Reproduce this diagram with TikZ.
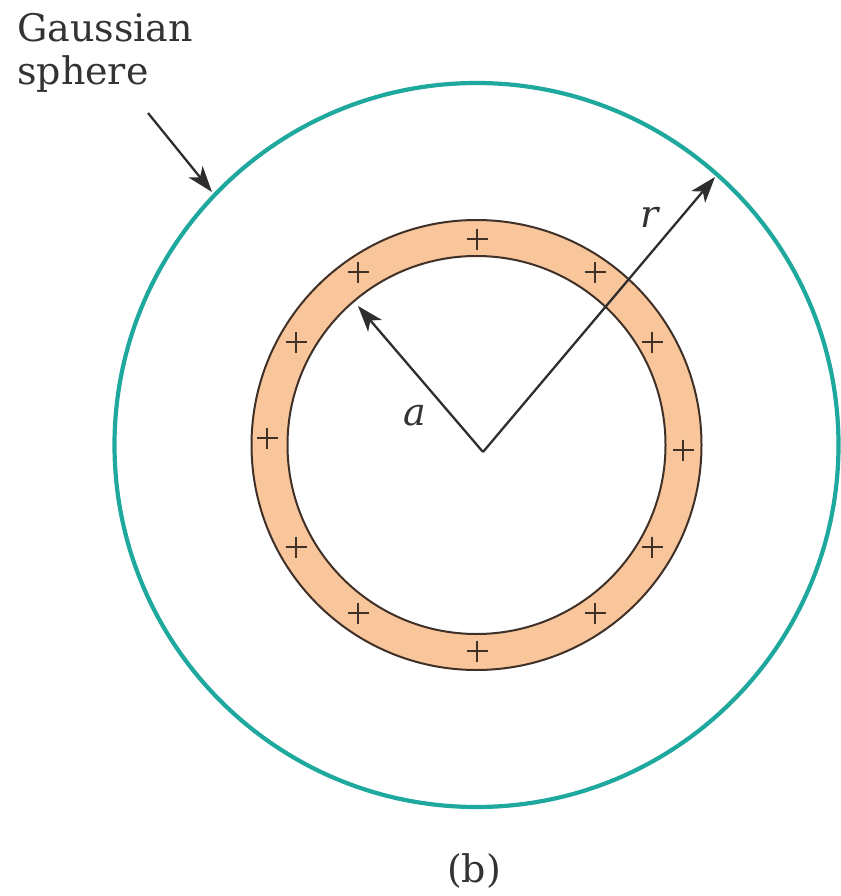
\documentclass[tikz,border=0pt]{standalone}
\usepackage{fontspec}
\setmainfont{DejaVu Serif}
\usetikzlibrary{arrows.meta}
\definecolor{teal1}{HTML}{1FA89E}
\definecolor{shellfill}{HTML}{F9C59B}
\definecolor{shellline}{HTML}{3F3028}
\definecolor{arrowgray}{HTML}{2E2E2E}
\begin{document}
\begin{tikzpicture}[x=1pt,y=-1pt,
  lbl/.style={font=\fontsize{38}{43}\selectfont, inner sep=0pt, text=black!80},
  arr/.style={draw=arrowgray, line width=2.3pt, -{Stealth[length=26pt,width=18pt,inset=7pt]}},
  plusmark/.pic={\draw[line width=2pt, shellline] (-10.5,0)--(10.5,0) (0,-10.5)--(0,10.5);}]
\useasboundingbox (0,0) rectangle (840,896);
\coordinate (O) at (476.5,445);
\coordinate (C) at (483,452);
\coordinate (atip) at (358,306);
\coordinate (rtip) at (715,177);
\coordinate (gtip) at (212,192);
% Gaussian sphere
\draw[teal1, line width=4.2pt] (O) circle (362);
% shell
\fill[shellfill, even odd rule] (O) circle (225) (O) circle (189);
\draw[shellline, line width=2pt] (O) circle (225) (O) circle (189);
% charges
\foreach \p in {(477,239),(358,272),(595,272),(296,342),(652,342),(267,438),(683,450),(296,547),(652,547),(358,613),(595,613),(477,651)}
  \pic at \p {plusmark};
% radii
\draw[arr] (C) -- (atip);
\draw[arr] (C) -- (rtip);
\node[lbl, font=\fontsize{38}{43}\selectfont\itshape] (a) at (415,416) {a};
\node[lbl, font=\fontsize{38}{43}\selectfont\itshape] (r) at (650,217) {r};
% label
\node[lbl, align=left, anchor=base west] (g) at (17,85) {Gaussian\\sphere};
\coordinate (gstart) at (148,113);
\draw[arr] (gstart) -- (gtip);
\node[lbl, anchor=base] (b) at (474,882) {(b)};
\end{tikzpicture}
\end{document}
